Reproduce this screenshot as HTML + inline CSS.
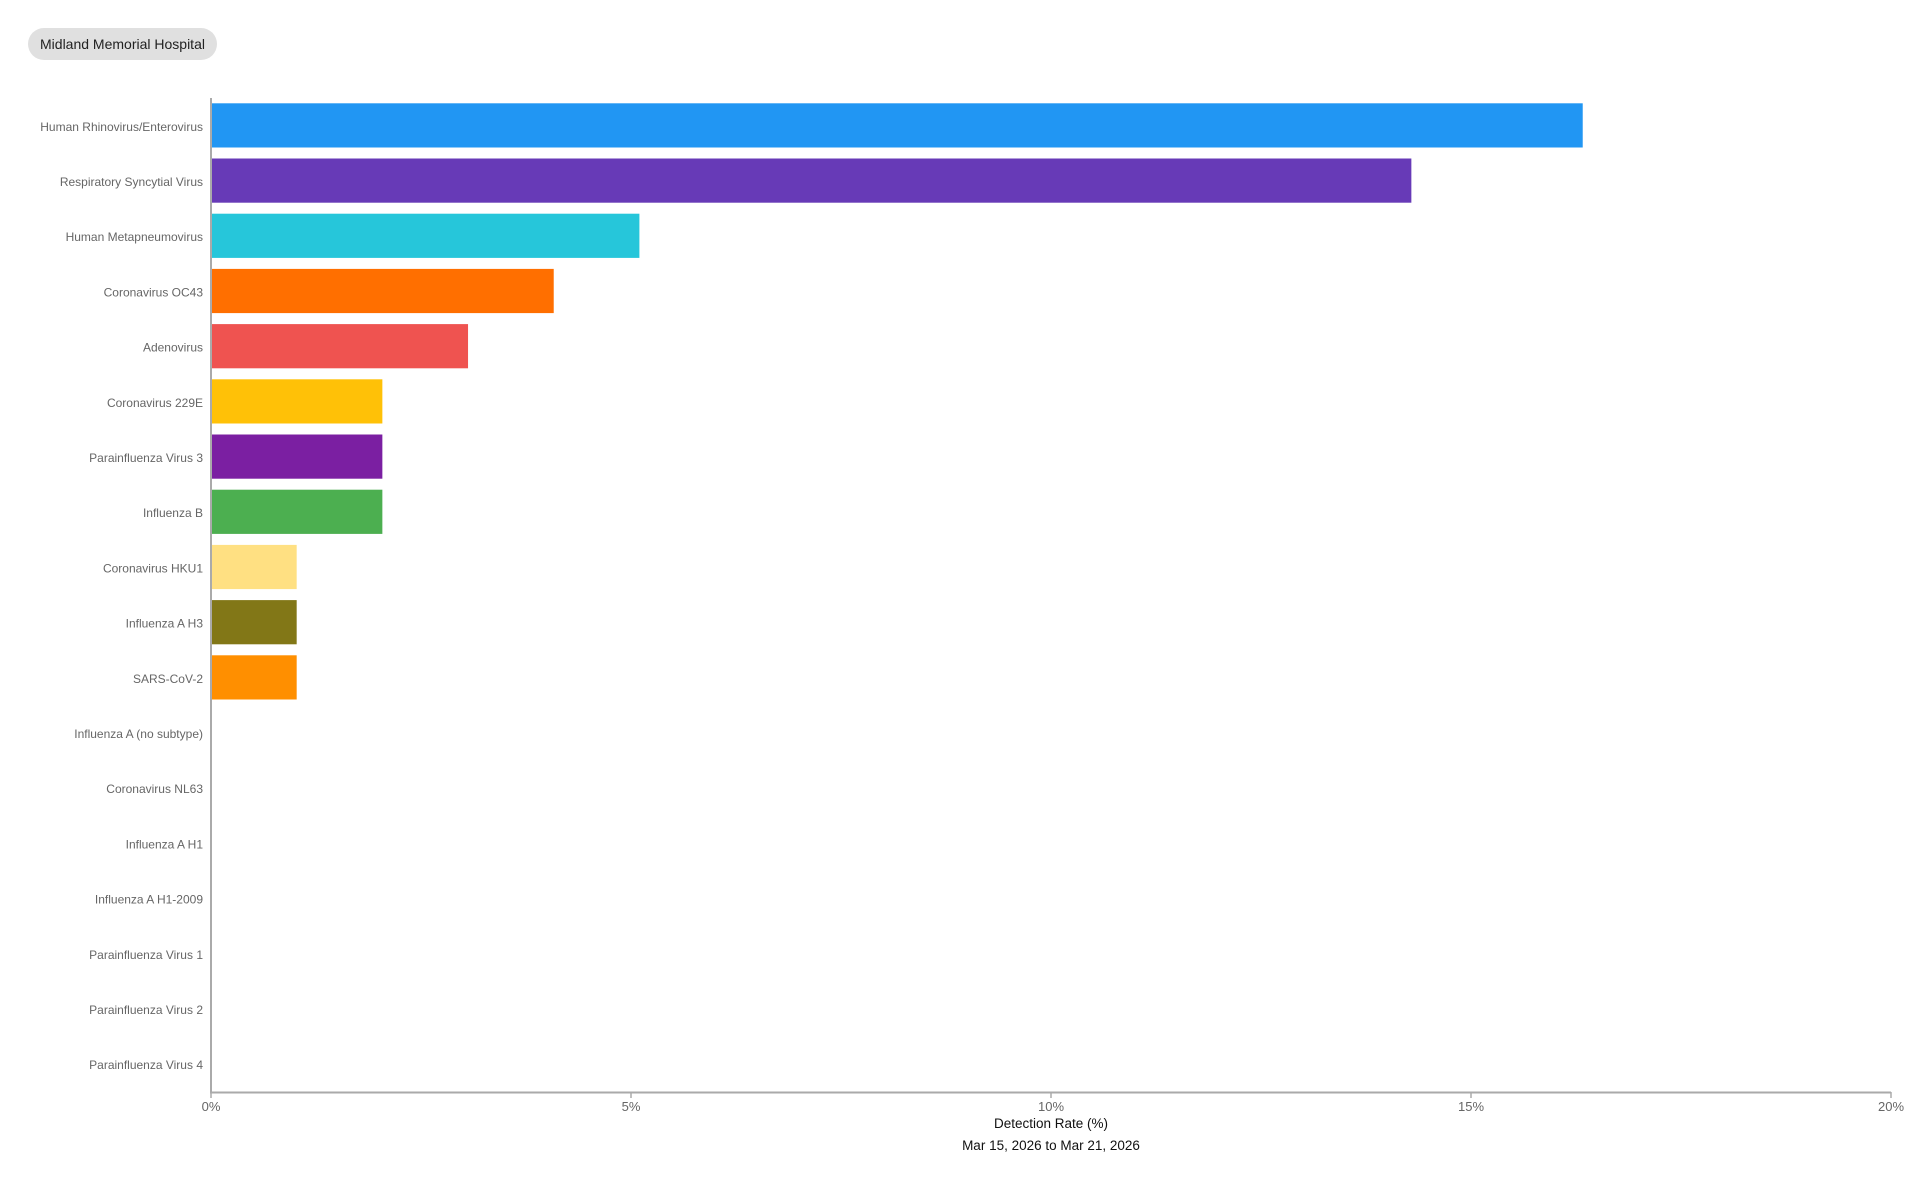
<!DOCTYPE html>
<html><head><meta charset="utf-8"><style>
html,body{margin:0;padding:0;background:#fff;width:1920px;height:1204px;overflow:hidden;font-family:"Liberation Sans",Arial,sans-serif}
.pill{position:absolute;left:28px;top:28px;width:189px;height:32px;border-radius:16px;background:#e0e0e0;color:#222;font-size:14px;line-height:32px;text-align:center;white-space:nowrap}
</style></head><body>
<div class="pill">Midland Memorial Hospital</div>
<svg width="1920" height="1204" style="position:absolute;left:0;top:0" xmlns="http://www.w3.org/2000/svg" font-family="Liberation Sans, Arial, sans-serif">
<g id="bars"></g>
<line x1="211" y1="98" x2="211" y2="1093" stroke="#aaa" stroke-width="2"/>
<line x1="210" y1="1092.5" x2="1891" y2="1092.5" stroke="#aaa" stroke-width="2"/>
<g stroke="#aaa" stroke-width="1.5">
<line x1="211" y1="1092" x2="211" y2="1098"/><line x1="631" y1="1092" x2="631" y2="1098"/><line x1="1051" y1="1092" x2="1051" y2="1098"/><line x1="1471" y1="1092" x2="1471" y2="1098"/><line x1="1891" y1="1092" x2="1891" y2="1098"/>
</g>
<g fill="#666" font-size="13" text-anchor="middle">
<text x="211" y="1111">0%</text><text x="631" y="1111">5%</text><text x="1051" y="1111">10%</text><text x="1471" y="1111">15%</text><text x="1891" y="1111">20%</text>
</g>
<text x="1051" y="1128" font-size="13.5" text-anchor="middle" fill="#111">Detection Rate (%)</text>
<text x="1051" y="1150" font-size="13.5" text-anchor="middle" fill="#111">Mar 15, 2026 to Mar 21, 2026</text>
<g id="labels" fill="#666" font-size="12" text-anchor="end"></g>
</svg>
<script>
var d=[["Human Rhinovirus/Enterovirus",16.33,"#2196f3"],["Respiratory Syncytial Virus",14.29,"#673ab7"],["Human Metapneumovirus",5.10,"#26c6da"],["Coronavirus OC43",4.08,"#ff6f00"],["Adenovirus",3.06,"#ef5350"],["Coronavirus 229E",2.04,"#ffc107"],["Parainfluenza Virus 3",2.04,"#7b1fa2"],["Influenza B",2.04,"#4caf50"],["Coronavirus HKU1",1.02,"#ffe082"],["Influenza A H3",1.02,"#827717"],["SARS-CoV-2",1.02,"#ff8f00"],["Influenza A (no subtype)",0],["Coronavirus NL63",0],["Influenza A H1",0],["Influenza A H1-2009",0],["Parainfluenza Virus 1",0],["Parainfluenza Virus 2",0],["Parainfluenza Virus 4",0]];
var ns="http://www.w3.org/2000/svg",b=document.getElementById("bars"),l=document.getElementById("labels");
d.forEach(function(r,i){var y=103.3+i*55.2;
if(r[1]>0){var e=document.createElementNS(ns,"rect");e.setAttribute("x",211);e.setAttribute("y",y);e.setAttribute("width",r[1]*84);e.setAttribute("height",44.2);e.setAttribute("fill",r[2]);b.appendChild(e);}
var t=document.createElementNS(ns,"text");t.setAttribute("x",203);t.setAttribute("y",y+27.5);t.textContent=r[0];l.appendChild(t);});
</script>
</body></html>
